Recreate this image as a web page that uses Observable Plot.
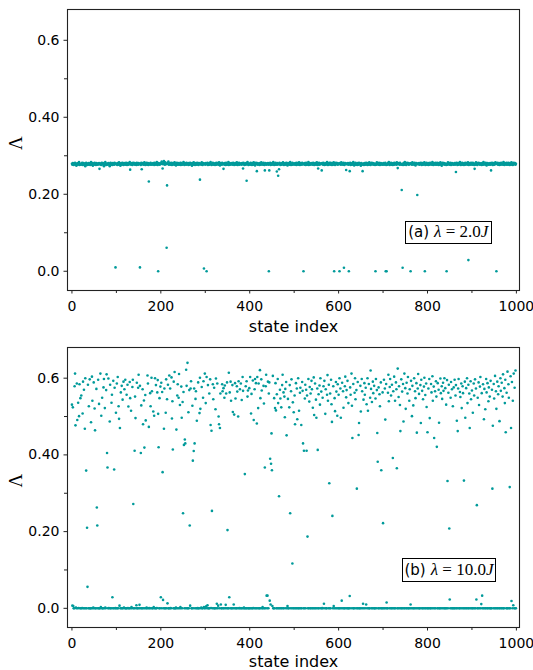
<!DOCTYPE html>
<html><head><meta charset="utf-8">
<script src="https://cdn.jsdelivr.net/npm/d3@7"></script>
<script src="https://cdn.jsdelivr.net/npm/@observablehq/plot@0.6"></script>
<style>
body{margin:0;background:#fff;}
#wrap{position:relative;width:533px;height:670px;overflow:hidden;}
#wrap svg{display:block;}
.leg{position:absolute;border:1px solid #000;background:#fff;box-sizing:border-box;display:flex;align-items:center;justify-content:center;white-space:nowrap;font-size:15px;color:#000;}
.sans{font-family:"DejaVu Sans";}
.math{font-family:"Liberation Serif";font-size:17px;margin-left:5px;}
</style></head><body><div id="wrap"></div>
<script>
// Λ values in thousandths, one per state index 0..999
const topLambda = [
279,277,281,278,276,280,279,282,277,278,274,280,279,277,281,278,284,276,279,278,
277,280,278,282,276,279,281,277,278,280,273,279,282,278,276,280,279,277,281,278,
280,276,279,284,277,278,281,274,279,280,278,282,277,279,276,281,278,280,277,279,
278,281,266,279,277,280,276,282,278,279,281,277,273,280,278,284,279,276,280,278,
279,277,281,278,280,273,279,282,277,278,280,276,281,279,278,277,282,280,10,278,
280,278,276,281,279,277,283,278,280,274,279,281,277,278,282,279,276,280,278,281,
277,279,282,278,276,280,281,277,279,278,284,264,280,277,279,281,276,278,282,279,
278,281,277,279,280,276,282,278,279,277,281,280,278,10,279,276,282,265,280,278,
281,277,279,283,278,276,280,279,282,277,278,281,276,233,279,280,277,282,278,279,
277,280,278,281,279,276,282,278,280,277,279,284,278,276,0,281,279,277,280,278,
279,282,285,280,267,278,281,286,279,277,283,280,278,61,223,281,279,285,277,280,
278,281,277,279,282,276,280,278,281,279,277,283,278,280,275,279,282,278,277,281,
280,277,279,278,282,276,281,279,277,280,278,284,279,276,281,278,280,277,282,279,
278,280,276,281,279,277,282,278,280,279,274,281,278,277,283,279,280,276,278,281,
279,277,282,278,280,276,281,279,238,278,280,277,283,279,276,281,278,7,280,279,
277,281,279,0,278,282,276,280,279,277,281,278,284,279,276,280,278,282,277,279,
280,278,276,281,279,277,282,278,280,279,277,283,278,275,281,279,280,277,282,278,
279,266,280,277,281,278,276,282,279,277,280,278,284,276,279,281,277,280,278,279,
281,277,279,282,278,276,280,279,281,277,278,283,279,276,280,278,282,277,279,280,
278,280,277,281,279,267,282,278,276,280,279,277,281,235,278,284,279,276,280,278,
279,277,282,278,280,276,281,279,277,283,278,280,275,279,282,278,260,281,277,279,
280,278,276,281,279,277,283,278,280,279,277,282,278,276,262,281,279,277,280,278,
279,281,277,0,262,278,282,276,280,279,277,281,278,284,279,276,280,278,282,277,
278,259,281,277,248,279,265,282,278,276,280,279,277,281,278,283,279,276,280,278,
281,277,279,282,278,275,280,279,281,277,278,284,279,276,280,278,282,277,279,280,
278,280,277,281,279,276,282,278,280,277,279,283,278,276,281,279,280,277,282,278,
279,0,280,277,281,278,276,282,279,277,280,278,284,276,279,281,277,280,278,279,
281,277,279,282,278,276,280,279,281,277,278,283,279,276,267,278,282,277,279,280,
278,280,262,281,279,277,282,278,276,280,279,277,281,278,284,279,276,280,278,282,
279,277,282,278,280,276,281,279,277,283,0,280,276,279,282,278,280,281,277,279,
280,278,0,281,279,277,283,278,280,279,277,282,9,276,279,281,278,263,280,278,
279,281,277,0,278,260,282,276,280,279,277,281,278,284,279,275,280,278,282,277,
278,280,276,281,279,277,282,278,280,279,274,281,278,277,260,279,280,276,278,281,
279,277,282,278,280,276,281,279,277,283,278,280,276,279,282,278,280,281,277,279,
280,278,276,0,279,277,283,278,280,279,277,282,278,276,279,281,278,280,277,278,
279,281,277,279,278,282,0,276,0,279,277,281,278,284,279,276,280,278,282,277,
278,280,276,281,279,277,282,278,280,279,277,283,278,268,281,279,280,277,282,278,
279,277,211,278,9,276,281,279,277,284,278,280,276,279,282,278,280,281,277,279,
280,278,0,281,279,277,283,278,280,279,277,282,278,275,279,281,278,198,280,278,
279,281,277,279,278,282,280,276,281,279,277,281,278,283,0,276,280,278,282,277,
278,280,276,281,279,277,282,278,280,279,277,284,278,276,281,279,280,277,282,278,
279,277,282,278,280,276,281,279,277,283,278,280,274,279,282,278,280,281,277,279,
280,278,276,0,279,277,283,278,280,279,277,282,278,276,279,281,278,280,277,278,
279,281,277,279,258,282,280,276,281,279,277,281,278,284,279,276,280,278,282,277,
278,280,276,281,279,277,282,278,280,279,277,283,29,276,281,279,280,277,282,278,
279,277,282,278,280,276,266,279,277,283,278,280,276,279,282,278,280,281,277,279,
280,278,276,281,279,277,284,278,280,279,277,282,278,275,279,281,278,280,277,278,
279,281,277,262,278,282,280,276,281,279,277,281,278,283,279,0,280,278,282,277,
278,280,276,281,279,277,282,278,280,279,277,284,278,276,281,279,280,277,282,278,
279,277,282,278,280,276,281,279,277,283,278,280,276,279,282,278,280,281,277,279
];
const bottomLambda = [
531,7,524,6,0,0,579,612,477,2,0,586,491,0,536,1,501,584,0,548,
0,555,0,1,508,591,0,570,0,468,600,0,359,0,210,56,583,0,527,0,
597,0,0,485,0,604,541,0,2,589,0,521,464,0,0,572,263,216,0,596,
0,533,0,0,612,3,502,0,549,0,0,576,598,0,522,2,0,569,610,405,
367,0,599,1,0,487,583,0,0,536,557,29,0,593,0,362,575,0,1,510,
0,586,0,603,0,527,494,7,470,0,563,0,580,0,544,0,591,2,571,0,
596,0,0,557,0,583,1,526,0,0,590,548,0,515,3,0,577,596,272,0,
0,411,552,496,0,8,588,0,0,575,609,0,9,580,0,405,529,0,0,571,
480,0,542,419,0,556,490,0,2,0,607,586,0,473,1,0,561,527,0,601,
566,0,0,513,3,502,0,600,0,582,0,1,563,595,507,420,0,548,0,578,
29,588,0,564,355,22,0,468,573,0,0,510,597,0,545,13,583,0,0,607,
0,573,1,0,602,495,540,414,0,591,0,616,0,0,2,466,0,555,584,0,
549,611,0,530,3,0,578,497,0,538,248,564,426,0,440,430,0,622,580,0,
640,0,511,0,569,216,7,573,592,0,0,528,385,0,410,573,430,0,546,566,
0,489,0,1,589,0,0,509,601,520,0,2,577,0,0,549,592,3,0,612,
0,535,5,603,0,8,582,0,0,560,0,597,478,1,463,254,0,584,545,0,
575,0,0,519,599,0,12,586,0,7,500,480,0,470,560,10,0,0,584,566,
0,574,0,549,581,0,9,560,0,589,204,0,0,614,29,563,0,591,541,0,
0,582,512,0,10,505,0,587,547,0,0,579,565,0,500,592,0,1,571,0,
586,0,543,0,603,567,0,2,0,350,0,579,0,592,0,552,568,0,0,574,
0,603,0,508,559,0,0,594,1,491,0,571,598,0,587,0,482,603,0,522,
586,0,0,621,548,0,597,568,0,3,0,580,534,0,367,0,579,609,33,0,
33,591,0,560,589,20,390,10,377,456,360,6,606,0,0,548,0,522,587,516,
0,558,0,598,535,0,292,0,570,547,0,524,0,582,609,0,563,0,552,498,
572,0,590,451,0,6,546,0,0,524,582,248,0,566,597,0,117,537,0,511,
0,555,480,0,587,0,573,493,0,600,0,515,0,562,575,0,478,0,590,567,
430,0,411,0,547,583,0,570,411,555,187,0,598,0,539,577,0,560,0,593,
571,0,523,0,602,504,0,586,0,544,497,0,573,413,0,558,0,581,531,600,
0,565,0,1,549,0,579,12,593,0,507,571,0,0,557,608,541,0,583,326,
0,560,0,596,532,486,241,0,579,6,0,548,514,0,590,565,0,502,584,0,
557,0,600,0,573,497,0,20,588,0,566,523,0,0,579,604,0,550,569,0,
593,0,535,0,0,32,576,557,0,612,528,444,0,585,0,0,562,600,545,0,
569,312,0,590,0,452,483,0,0,580,513,0,598,566,0,12,544,0,587,557,
0,575,10,532,0,600,515,0,585,0,0,549,620,572,0,538,0,591,561,0,
580,0,0,547,598,0,569,457,382,0,576,0,558,527,0,589,360,0,0,563,
222,0,596,0,573,492,0,585,15,0,0,562,609,540,0,577,598,0,555,0,
583,0,392,566,0,604,0,541,0,589,571,365,0,625,0,551,579,0,530,462,
0,597,0,565,0,585,487,0,612,0,574,520,0,588,0,560,603,0,0,541,
571,0,10,593,0,501,580,0,529,0,600,0,566,548,0,587,458,0,573,611,
0,559,0,0,582,483,596,0,567,0,545,0,578,601,0,556,0,586,525,0,
459,0,573,0,598,496,0,0,585,563,0,605,541,0,578,444,0,566,0,592,
552,421,0,587,0,570,484,0,0,599,561,0,579,546,0,588,567,0,600,0,
574,0,531,0,595,332,0,562,583,208,23,0,549,590,0,571,0,527,0,576,
0,596,0,555,582,0,489,0,462,573,598,0,0,564,551,0,586,522,0,579,
561,0,333,0,591,497,0,574,0,600,535,0,583,0,560,470,0,592,545,0,
568,0,510,0,586,555,0,597,0,573,23,269,0,549,0,589,530,0,578,603,
0,11,561,33,0,584,0,493,572,0,519,0,598,563,0,587,0,540,576,0,
552,0,593,0,0,570,312,476,0,585,547,0,606,0,566,520,0,591,0,558,
579,0,488,0,600,567,0,588,0,552,610,0,0,574,535,596,459,0,562,0,
617,0,584,549,0,316,0,605,470,19,590,0,541,8,612,0,575,0,620,0
];
const xTicks = [0, 200, 400, 600, 800, 1000];
const xMinorTicks = [100, 300, 500, 700, 900];
const yTicks = [0, 0.2, 0.4, 0.6];
const yTickLabels = ["0.0", "0.20", "0.40", "0.6"];
const yMinorTicks = [0.1, 0.3, 0.5];
const xLabel = "state index";
const yLabel = "Λ";
const panelLabels = [["(a)", "λ", " = 2.0", "J"], ["(b)", "λ", " = 10.0", "J"]];

function panel(values, o) {
  const data = values.map((v, i) => ({i, v: v / 1000}));
  return Plot.plot({
    width: 533, height: o.height, marginTop: o.mt, marginBottom: o.mb,
    marginLeft: 67, marginRight: 14,
    style: {fontFamily: "DejaVu Sans", fontSize: "14px", color: "#000", background: "#fff", overflow: "visible"},
    x: {domain: [-10, 1007]},
    y: {domain: [-0.05, 0.68]},
    marks: [
      Plot.dot(data, {x: "i", y: "v", r: 1.3, fill: "#009a9a"}),
      Plot.axisX({ticks: xTicks, tickFormat: d => String(d), tickSize: 3.5, tickPadding: 7, label: null, stroke: "#222"}),
      Plot.axisX({ticks: xMinorTicks, tickSize: 3, tickFormat: () => "", label: null, stroke: "#222"}),
      Plot.axisY({ticks: yTicks, tickFormat: d => yTickLabels[yTicks.indexOf(d)], tickSize: 3.5, tickPadding: 4.5, label: null, stroke: "#222"}),
      Plot.axisY({ticks: yMinorTicks, tickSize: 3, tickFormat: () => "", label: null, stroke: "#222"}),
      Plot.frame({stroke: "#222", strokeWidth: 1.1}),
      Plot.text([xLabel], {frameAnchor: "bottom", dy: o.xl, lineAnchor: "bottom", fontSize: 16}),
      Plot.text([yLabel], {frameAnchor: "left", dx: -52, rotate: -90, fontSize: 19, fontFamily: "Liberation Serif"})
    ]
  });
}

const wrap = document.getElementById("wrap");
wrap.appendChild(panel(topLambda, {height: 337, mt: 9, mb: 47, xl: 41.5}));
wrap.appendChild(panel(bottomLambda, {height: 333, mt: 10, mb: 43, xl: 39}));

const boxes = [
  {left: 404.5, top: 220.7, w: 87.5, h: 23.6},
  {left: 401.7, top: 558, w: 94.5, h: 23.7}
];
boxes.forEach((b, k) => {
  const d = document.createElement("div");
  d.className = "leg";
  Object.assign(d.style, {left: b.left + "px", top: b.top + "px", width: b.w + "px", height: b.h + "px"});
  const L = panelLabels[k];
  d.innerHTML = `<span class="sans">${L[0]}</span><span class="math"><i>${L[1]}</i>${L[2]}<i>${L[3]}</i></span>`;
  wrap.appendChild(d);
});
</script>
</body></html>
